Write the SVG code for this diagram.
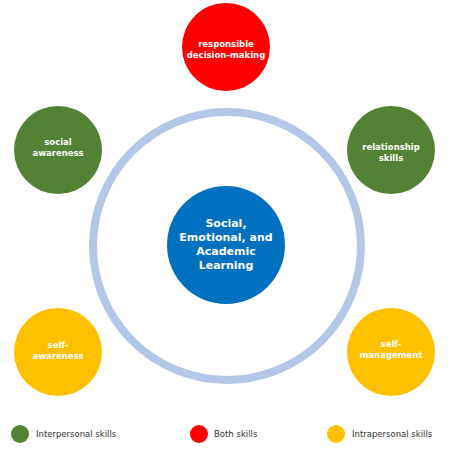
<svg xmlns="http://www.w3.org/2000/svg" width="450" height="450" viewBox="0 0 450 450">
<style>
.lbl{font-family:"DejaVu Sans",Verdana,sans-serif;font-weight:bold;fill:#fff;text-anchor:middle;font-size:8.5px}
.ctr{font-family:"DejaVu Sans",Verdana,sans-serif;font-weight:bold;fill:#fff;text-anchor:middle;font-size:11px}
.leg{font-family:"DejaVu Sans",Verdana,sans-serif;fill:#333;font-size:8.5px}
.g{fill:#548235}.r{fill:#ff0000}.y{fill:#ffc000}
</style>
<rect width="450" height="450" fill="#fff"/>
<g id="connectors"></g>
<g id="ring"><circle cx="227" cy="246" r="134" fill="none" stroke="#b4c7e7" stroke-width="8"/></g>
<g id="center"><circle cx="226" cy="245" r="59" fill="#0070c0"/>
<text class="ctr" x="226" y="227">Social,</text>
<text class="ctr" x="226" y="241">Emotional, and</text>
<text class="ctr" x="226" y="255">Academic</text>
<text class="ctr" x="226" y="269">Learning</text></g>
<g id="decision"><circle class="r" cx="226" cy="47" r="44"/>
<text class="lbl" x="226" y="47">responsible</text>
<text class="lbl" x="226" y="58">decision-making</text></g>
<g id="social"><circle class="g" cx="58" cy="150" r="44"/>
<text class="lbl" x="58" y="145">social</text>
<text class="lbl" x="58" y="156">awareness</text></g>
<g id="relationship"><circle class="g" cx="391" cy="150" r="44"/>
<text class="lbl" x="391" y="150">relationship</text>
<text class="lbl" x="391" y="161">skills</text></g>
<g id="selfaware"><circle class="y" cx="58" cy="352" r="44"/>
<text class="lbl" x="58" y="348">self-</text>
<text class="lbl" x="58" y="359">awareness</text></g>
<g id="selfmanage"><circle class="y" cx="391" cy="352" r="44"/>
<text class="lbl" x="391" y="347">self-</text>
<text class="lbl" x="391" y="358">management</text></g>
<g id="legend">
<circle class="g" cx="20" cy="434" r="9"/><text class="leg" x="36" y="437">Interpersonal skills</text>
<circle class="r" cx="199" cy="434" r="9"/><text class="leg" x="214" y="437">Both skills</text>
<circle class="y" cx="336" cy="434" r="9"/><text class="leg" x="352" y="437">Intrapersonal skills</text>
</g>
</svg>
